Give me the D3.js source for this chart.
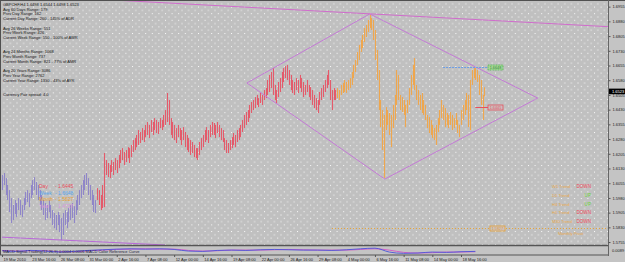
<!DOCTYPE html>
<html>
<head>
<meta charset="utf-8">
<script src="https://cdn.jsdelivr.net/npm/d3@7"></script>
<style>
  html, body { margin: 0; padding: 0; background: #c4c4c4; }
  svg { display: block; font-family: "Liberation Sans", Arial, sans-serif; }
</style>
</head>
<body>
<svg id="chart" width="625" height="262"></svg>
<script>
// GBPCHF H4 bars, 19 Mar - 19 May 2010. highs / lows in pips (price * 10000)
const highs = [
  16097,16107,16081,16046,16020,15979,15944,15969,15954,15979,
  15969,15944,15979,16010,16020,16005,16046,16071,16086,16061,
  16046,16020,15995,15969,15954,15944,15969,15944,15918,15903,
  15893,15908,15893,15877,15903,15918,15908,15928,15944,15954,
  15938,15969,15995,16020,16046,16071,16097,16107,16081,16046,
  16020,15995,15969,16030,16020,15995,16046,16209,16173,16158,
  16148,16173,16163,16183,16173,16199,16224,16234,16214,16224,
  16239,16234,16250,16275,16285,16301,16326,16316,16336,16326,
  16352,16367,16352,16377,16367,16387,16377,16367,16387,16377,
  16403,16428,16515,16479,16387,16367,16352,16336,16352,16336,
  16326,16341,16316,16301,16285,16275,16265,16250,16234,16234,
  16265,16285,16301,16326,16341,16326,16352,16367,16362,16352,
  16367,16352,16336,16326,16285,16275,16260,16275,16290,16311,
  16301,16326,16336,16352,16377,16403,16418,16428,16454,16469,
  16479,16494,16505,16489,16515,16505,16530,16540,16581,16607,
  16622,16642,16556,16530,16571,16591,16622,16642,16652,16658,
  16632,16607,16581,16571,16591,16581,16607,16591,16571,16556,
  16581,16556,16545,16530,16505,16489,16479,16520,16540,16556,
  16581,16607,16632,16581,16530,16540,16530,16540,16530,16556,
  16566,16581,16571,16581,16591,16622,16658,16683,16724,16760,
  16785,16811,16846,16862,16887,16913,16897,16887,16836,16734,
  16632,16479,16428,16403,16443,16428,16413,16403,16454,16505,
  16632,16607,16505,16494,16479,16454,16479,16540,16607,16658,
  16693,16556,16530,16505,16515,16479,16454,16403,16392,16377,
  16352,16336,16352,16387,16428,16479,16454,16438,16413,16403,
  16418,16403,16387,16413,16377,16352,16428,16454,16479,16515,
  16505,16581,16632,16647,16642,16632,16607,16581,16505,16544
];
const lows = [
  16020,16046,15995,15969,15908,15852,15867,15898,15882,15918,
  15893,15882,15918,15944,15959,15933,15979,15995,16020,15995,
  15969,15944,15918,15893,15867,15877,15908,15877,15842,15826,
  15816,15842,15806,15765,15791,15842,15826,15857,15867,15877,
  15852,15893,15918,15944,15979,15995,16020,16046,15995,15969,
  15944,15908,15903,15969,15944,15918,15928,15933,16097,16086,
  16081,16112,16097,16122,16107,16132,16158,16173,16148,16163,
  16183,16158,16188,16214,16224,16239,16250,16260,16275,16265,
  16290,16301,16285,16316,16301,16326,16311,16306,16336,16326,
  16341,16352,16367,16352,16301,16285,16275,16260,16290,16275,
  16250,16275,16239,16224,16214,16199,16209,16188,16183,16173,
  16199,16224,16239,16265,16275,16260,16290,16301,16301,16285,
  16311,16290,16275,16265,16224,16209,16209,16224,16234,16250,
  16239,16265,16275,16290,16316,16336,16352,16367,16387,16413,
  16428,16438,16454,16443,16464,16454,16479,16489,16505,16520,
  16540,16505,16479,16464,16494,16520,16540,16571,16591,16581,
  16556,16530,16515,16505,16530,16515,16540,16520,16494,16505,
  16520,16494,16479,16454,16438,16428,16413,16454,16479,16494,
  16520,16540,16556,16479,16428,16479,16479,16489,16479,16505,
  16515,16520,16515,16530,16540,16556,16591,16622,16658,16683,
  16724,16744,16775,16800,16826,16846,16836,16785,16683,16581,
  16428,16341,16224,16081,16326,16352,16301,16239,16336,16377,
  16454,16479,16428,16418,16403,16341,16413,16454,16505,16556,
  16530,16479,16454,16428,16413,16403,16377,16336,16311,16301,
  16285,16275,16250,16316,16352,16387,16377,16341,16352,16336,
  16352,16326,16336,16352,16311,16290,16352,16377,16403,16428,
  16341,16326,16556,16591,16581,16571,16505,16454,16377,16498
];
// bar index where each colour zone begins
const zoneStarts = [0, 53, 187];
const zoneColors = ["#8f86c8", "#e45a6a", "#eea64e"];

const timeLabels = ["19 Mar 2010", "23 Mar 16:00", "26 Mar 08:00", "31 Mar 00:00", "2 Apr 16:00",
  "7 Apr 08:00", "12 Apr 00:00", "14 Apr 16:00", "19 Apr 08:00", "22 Apr 00:00", "26 Apr 16:00",
  "29 Apr 08:00", "4 May 00:00", "6 May 16:00", "11 May 08:00", "14 May 00:00", "18 May 16:00"];
const priceTicks = [1.6955, 1.6880, 1.6805, 1.6730, 1.6655, 1.6580, 1.6505, 1.6430, 1.6355,
  1.6280, 1.6205, 1.6130, 1.6055, 1.5980, 1.5905, 1.5830, 1.5755];
const lastPrice = 1.6523;

// pivot levels: [name, price, first bar]
const pivotNames = ["Day", "Week", "Month", "Year"];
const pivotPrices = [1.6445, 1.6648, 1.5827, 1.4727];
const pivotStart = [264, 246, 184, null];
const pivotColors = ["#e8505e", "#55a6ee", "#e8a232", "#d898dc"];

// trend lines drawn by hand on the chart: [bar, price] pairs
const diamond = [[136.6, 1.6566], [205.1, 1.6918], [298.8, 1.6489], [213.5, 1.6076], [136.6, 1.6566]];
const upperLine = [[65.8, 1.6987], [338, 1.6853]];
const lowerLine = [[0, 1.5780], [91, 1.5740]];

// trend panel on the right
const trendNames = ["W1 Trend", "D1 Trend", "H4 Trend", "H1 Trend", "M30 Trend"];
const trendStates = ["DOWN", "UP", "UP", "DOWN", "DOWN"];

// range statistics printed at the top left
const infoLines = [
  "GBPCHF,H4  1.6498 1.6544 1.6498 1.6523",
  "Avg 60 Days Range: 179", "Prev Day Range: 162", "Current Day Range: 260 - 145% of ADR", "",
  "Avg 26 Weeks Range: 551", "Prev Week Range: 426", "Current Week Range: 550 - 100% of AWR", "", "",
  "Avg 24 Months Range: 1068", "Prev Month Range: 737", "Current Month Range: 821 - 77% of AMR", "",
  "Avg 20 Years Range: 3086", "Prev Year Range: 2762", "Current Year Range: 1330 - 43% of AYR", "", "",
  "Currency Pair spread: 4.0"
];

// sub window oscillator, one value every 8 bars
const oscMain = [0.0, -0.2, 0.1, -0.1, -0.4, -0.2, 0.1, 0.3, 0.5, 0.6, 0.5, 0.6, 0.4, -0.1, -0.2, 0.1, 0.2,
  0.1, 0.3, 0.4, 0.3, 0.2, 0.2, 0.1, 0.3, 0.6, 0.8, -0.4, -0.8, -0.7, -0.4, -0.5, -0.3, -0.2];
const oscSignal = [0.1, -0.1, 0.0, 0.0, -0.3, -0.3, 0.0, 0.2, 0.4, 0.5, 0.6, 0.5, 0.5, 0.1, -0.1, 0.0, 0.2,
  0.2, 0.2, 0.3, 0.4, 0.3, 0.2, 0.2, 0.2, 0.4, 0.6, 0.2, -0.5, -0.7, -0.6, -0.4, -0.4, -0.3];

const svg = d3.select("#chart");
const plot = {left: 1, right: 608, top: 1, bottom: 245};
const sub = {top: 246, bottom: 255};

const x = d3.scaleLinear().domain([0, 256]).range([2, 461]);
const y = d3.scaleLinear().domain([1.5740, 1.6989]).range([245, 0]);
const yOsc = d3.scaleLinear().domain([-1, 1]).range([254, 247.5]);

//dotted background of the main window
const defs = svg.append("defs");
const pat = defs.append("pattern").attr("id", "dots")
  .attr("patternUnits", "userSpaceOnUse").attr("width", 6.6).attr("height", 6.6);
pat.append("rect").attr("width", 6.6).attr("height", 6.6).attr("fill", "#c0c0c0");
pat.append("rect").attr("x", 0).attr("y", 0).attr("width", 1).attr("height", 1).attr("fill", "#fbfbfb");
pat.append("rect").attr("x", 3.3).attr("y", 3.3).attr("width", 1).attr("height", 1).attr("fill", "#fbfbfb");
defs.append("clipPath").attr("id", "clip").append("rect")
  .attr("x", plot.left).attr("y", plot.top)
  .attr("width", plot.right - plot.left).attr("height", plot.bottom - plot.top);

svg.append("rect").attr("width", 625).attr("height", 262).attr("fill", "#c4c4c4");
svg.append("rect").attr("x", plot.left).attr("y", plot.top)
  .attr("width", plot.right - plot.left).attr("height", plot.bottom - plot.top)
  .attr("fill", "url(#dots)");

const g = svg.append("g").attr("clip-path", "url(#clip)");

// bars
const bars = highs.map((h, i) => ({
  i: i, hi: h / 1e4, lo: lows[i] / 1e4, zone: d3.bisectRight(zoneStarts, i) - 1
}));
g.selectAll("line.bar").data(bars).enter().append("line")
  .attr("class", "bar")
  .attr("x1", d => Math.round(x(d.i)) + 0.5).attr("x2", d => Math.round(x(d.i)) + 0.5)
  .attr("y1", d => y(d.hi)).attr("y2", d => y(d.lo))
  .attr("stroke", d => zoneColors[d.zone]).attr("stroke-width", 1.1);

// trend lines
const line = d3.line().x(d => x(d[0])).y(d => y(d[1]));
g.append("path").attr("d", line(diamond)).attr("fill", "none")
  .attr("stroke", "#c47ad6").attr("stroke-width", 1);
g.append("path").attr("d", line(upperLine)).attr("fill", "none")
  .attr("stroke", "#d06ccc").attr("stroke-width", 1);
g.append("path").attr("d", line(lowerLine)).attr("fill", "none")
  .attr("stroke", "#b868d8").attr("stroke-width", 1);

// pivot lines with their price boxes
const boxX = 488;
[0, 1, 2].forEach(k => {
  const py = Math.round(y(pivotPrices[k])) + 0.5;
  const x1 = x(pivotStart[k]);
  const x2 = k == 2 ? plot.right : boxX;
  g.append("line").attr("x1", x1).attr("x2", x2).attr("y1", py).attr("y2", py)
    .attr("stroke", k == 1 ? "#6c9ee6" : pivotColors[k])
    .attr("stroke-dasharray", k == 0 ? null : (k == 1 ? "2,1" : "1,2"))
    .attr("stroke-width", 1);
  const bx = k == 2 ? 490 : boxX;
  g.append("rect").attr("x", bx).attr("y", py - 2.5).attr("width", 15).attr("height", 5)
    .attr("fill", k == 1 ? "#a8d69a" : "#c8c0c0")
    .attr("stroke", k == 1 ? "#48b848" : pivotColors[k]).attr("stroke-width", 0.8)
    .attr("stroke-dasharray", k == 1 ? "1,0.6" : null);
  g.append("text").attr("x", bx + 7.5).attr("y", py + 1.5).attr("text-anchor", "middle")
    .attr("font-size", 3.8).attr("fill", k == 1 ? "#2c8a2c" : pivotColors[k])
    .text(pivotPrices[k].toFixed(4));
});

// info text, top left
svg.append("g").selectAll("text").data(infoLines).enter().append("text")
  .attr("x", 3).attr("y", (d, i) => 6 + i * 4.72)
  .attr("font-size", 4).attr("fill", "#151515")
  .text(d => d);

// pivot legend, bottom left
const legend = svg.append("g");
pivotNames.forEach((n, k) => {
  legend.append("text").attr("x", 39).attr("y", 188 + k * 6.5).attr("font-size", 5)
    .attr("fill", pivotColors[k]).text(n);
  legend.append("text").attr("x", 55).attr("y", 188 + k * 6.5).attr("font-size", 5)
    .attr("fill", pivotColors[k]).text("- " + pivotPrices[k].toFixed(4));
});

// trend panel, bottom right
trendNames.forEach((n, k) => {
  const ty = 188 + k * 8.8;
  svg.append("text").attr("x", 552).attr("y", ty).attr("font-size", 4.2)
    .attr("fill", "#e8a848").text(n);
  svg.append("text").attr("x", 591).attr("y", ty).attr("font-size", 4.6)
    .attr("text-anchor", "end")
    .attr("fill", trendStates[k] == "UP" ? "#6cd43c" : "#ee4a5a").text(trendStates[k]);
});
svg.append("text").attr("x", 558).attr("y", 235).attr("font-size", 4.2)
  .attr("fill", "#e8a848").text("Monthly Pivot");

// sub window oscillator
const osc = d3.line().x((d, j) => x(j * 8)).y(d => yOsc(d)).curve(d3.curveMonotoneX);
svg.append("rect").attr("x", plot.left).attr("y", sub.top)
  .attr("width", plot.right - plot.left).attr("height", sub.bottom - sub.top).attr("fill", "#c4c4c4");
svg.append("path").attr("d", osc(oscSignal)).attr("fill", "none")
  .attr("stroke", "#d456c4").attr("stroke-width", 0.9);
svg.append("path").attr("d", osc(oscMain)).attr("fill", "none")
  .attr("stroke", "#4a54d8").attr("stroke-width", 0.9);
svg.append("text").attr("x", 3).attr("y", 252.5).attr("font-size", 4)
  .attr("fill", "#1a1a3a")
  .text("MACD Signal-Trading(12,26,9) 0.0004 0.0006 MACD Color Reference Curve");

// window borders
svg.append("line").attr("x1", 0).attr("x2", 625).attr("y1", 0.5).attr("y2", 0.5).attr("stroke", "#505050");
svg.append("line").attr("x1", 0.5).attr("x2", 0.5).attr("y1", 0).attr("y2", sub.bottom).attr("stroke", "#505050");
svg.append("line").attr("x1", 0).attr("x2", plot.right).attr("y1", 245.5).attr("y2", 245.5)
  .attr("stroke", "#555").attr("stroke-width", 1.4);
svg.append("line").attr("x1", 0).attr("x2", plot.right).attr("y1", 255).attr("y2", 255)
  .attr("stroke", "#555").attr("stroke-width", 1);
svg.append("line").attr("x1", plot.right + 0.5).attr("x2", plot.right + 0.5).attr("y1", 0).attr("y2", 256)
  .attr("stroke", "#666");

// price axis
const yAxis = d3.axisRight(y).tickValues(priceTicks).tickFormat(d3.format(".4f")).tickSize(2).tickPadding(2);
const ya = svg.append("g").attr("transform", `translate(${plot.right + 0.5},0)`).call(yAxis);
ya.select(".domain").remove();
ya.selectAll("text").attr("font-size", 4).attr("fill", "#1a1a1a").attr("font-family", "Liberation Sans");
ya.selectAll("line").attr("stroke", "#555");
svg.append("text").attr("x", 612).attr("y", 251.5).attr("font-size", 4).attr("fill", "#1a1a1a").text("0.0089");

// current price marker
const cy = y(lastPrice);
svg.append("rect").attr("x", plot.right + 1).attr("y", cy - 2.8).attr("width", 17).attr("height", 5.6).attr("fill", "#000");
svg.append("text").attr("x", 612).attr("y", cy + 1.5).attr("font-size", 4).attr("fill", "#fff").text(lastPrice.toFixed(4));

// time axis
const xAxis = d3.axisBottom(x).tickValues(timeLabels.map((t, k) => k * 16))
  .tickFormat((d, k) => timeLabels[k]).tickSize(2).tickPadding(1);
const xa = svg.append("g").attr("transform", `translate(0,${sub.bottom})`).call(xAxis);
xa.select(".domain").remove();
xa.selectAll("text").attr("font-size", 4).attr("fill", "#1a1a1a")
  .attr("text-anchor", "start").attr("dx", 1).attr("font-family", "Liberation Sans");
xa.selectAll("line").attr("stroke", "#555");
</script>
</body>
</html>
